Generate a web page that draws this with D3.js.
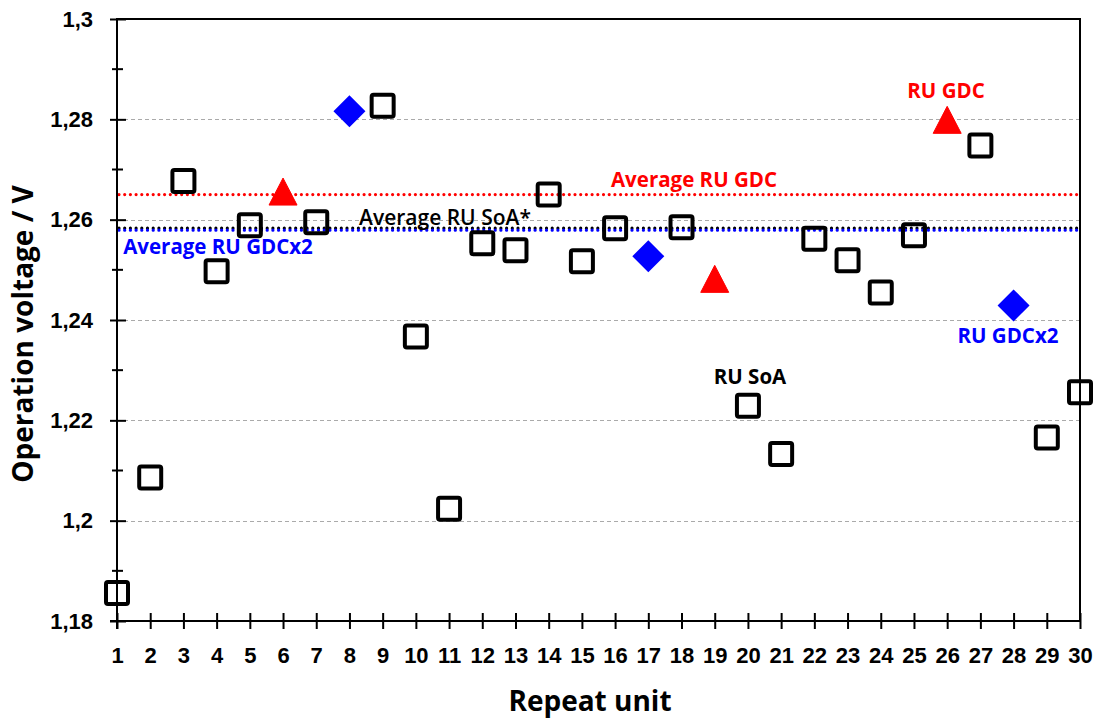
<!DOCTYPE html>
<html>
<head>
<meta charset="utf-8">
<script src="https://cdn.jsdelivr.net/npm/d3@7"></script>
<style>
  body { margin: 0; background: #fff; }
  svg { display: block; font-family: "Open Sans", "Noto Sans", sans-serif; }
</style>
</head>
<body>
<svg id="chart" width="1096" height="719"></svg>
<script>
// repeat units on the x axis
const repeatUnits = d3.range(1, 31);

// RU SoA (open squares)
const soaUnits = [1, 2, 3, 4, 5, 7, 9, 10, 11, 12, 13, 14, 15, 16, 18, 20, 21, 22, 23, 24, 25, 27, 29, 30];
const soaVoltage = [1.1856, 1.2086, 1.2677, 1.2497, 1.2589, 1.2595, 1.2827, 1.2367, 1.2024, 1.2553, 1.2539, 1.2650,
  1.2517, 1.2583, 1.2585, 1.2229, 1.2133, 1.2562, 1.2519, 1.2455, 1.2569, 1.2748, 1.2166, 1.2256];

// RU GDC (red triangles)
const gdcUnits = [6, 19, 26];
const gdcVoltage = [1.2656, 1.2482, 1.2799];

// RU GDCx2 (blue diamonds)
const gdc2Units = [8, 17, 28];
const gdc2Voltage = [1.2816, 1.2527, 1.2429];

// averages
const avgGdc = 1.265;
const avgSoa = 1.2583;
const avgGdc2 = 1.2579;

// y axis ticks
const yMajorTicks = [1.18, 1.2, 1.22, 1.24, 1.26, 1.28, 1.3];
const yMinorTicks = [1.19, 1.21, 1.23, 1.25, 1.27, 1.29];
const gridTicks = [1.2, 1.22, 1.24, 1.26, 1.28];

const svg = d3.select('#chart');

const x = d3.scaleLinear().domain([1, 30]).range([117, 1080]);
const y = d3.scaleLinear().domain([1.18, 1.3]).range([621, 19]);

const comma = d3.formatLocale({ decimal: ',', thousands: '.', grouping: [3], currency: ['', ''] }).format('.3~r');

// gridlines
svg.append('g')
  .selectAll('line')
  .data(gridTicks)
  .enter()
  .append('line')
  .attr('x1', x(1))
  .attr('x2', x(30))
  .attr('y1', (d) => Math.round(y(d)) + 0.5)
  .attr('y2', (d) => Math.round(y(d)) + 0.5)
  .attr('stroke', '#aaaaaa')
  .attr('stroke-width', 1)
  .attr('stroke-dasharray', '4,3');

// average lines (round dots)
const avgLines = [
  { v: avgGdc, color: '#ff0000' },
  { v: avgSoa, color: '#000000' },
  { v: avgGdc2, color: '#0000ff' },
];
svg.append('g')
  .selectAll('line')
  .data(avgLines)
  .enter()
  .append('line')
  .attr('x1', x(1) + 2)
  .attr('x2', x(30) + 2)
  .attr('y1', (d) => y(d.v))
  .attr('y2', (d) => y(d.v))
  .attr('stroke', (d) => d.color)
  .attr('stroke-width', 3.2)
  .attr('stroke-linecap', 'round')
  .attr('stroke-dasharray', '0,5.7');

// y axis
const yAxis = svg.append('g')
  .attr('transform', `translate(${x(1)},0)`)
  .call(d3.axisLeft(y).tickValues(yMajorTicks).tickSize(8).tickPadding(16).tickFormat(comma));
yAxis.select('.domain').remove();
yAxis.selectAll('line').attr('x1', 9).attr('x2', -7).attr('stroke', '#000').attr('stroke-width', 2);
yAxis.selectAll('text')
  .attr('font-size', 22)
  .attr('font-weight', 'bold')
  .attr('fill', '#000');

svg.append('g')
  .selectAll('line')
  .data(yMinorTicks)
  .enter()
  .append('line')
  .attr('x1', x(1) - 5)
  .attr('x2', x(1) + 6)
  .attr('y1', (d) => y(d))
  .attr('y2', (d) => y(d))
  .attr('stroke', '#000')
  .attr('stroke-width', 2);

// x axis
const xAxis = svg.append('g')
  .attr('transform', `translate(0,${y(1.18)})`)
  .call(d3.axisBottom(x).tickValues(repeatUnits).tickSize(8).tickPadding(18).tickFormat(d3.format('d')));
xAxis.select('.domain').remove();
xAxis.selectAll('line').attr('y1', -8).attr('y2', 8).attr('stroke', '#000').attr('stroke-width', 2);
xAxis.selectAll('text')
  .attr('font-size', 22)
  .attr('font-weight', 'bold')
  .attr('fill', '#000');

// frame
svg.append('path')
  .attr('d', `M${x(1) - 7},${y(1.18)}H${x(30)}V${y(1.3)}H${x(1)}V${y(1.18) + 8}`)
  .attr('fill', 'none')
  .attr('stroke', '#000')
  .attr('stroke-width', 2);

// RU SoA squares
svg.append('g')
  .selectAll('rect')
  .data(soaUnits)
  .enter()
  .append('rect')
  .attr('x', (d) => x(d) - 11)
  .attr('y', (d, i) => y(soaVoltage[i]) - 11)
  .attr('width', 22)
  .attr('height', 22)
  .attr('rx', 2)
  .attr('fill', 'none')
  .attr('stroke', '#000')
  .attr('stroke-width', 4);

// RU GDC triangles
svg.append('g')
  .selectAll('path')
  .data(gdcUnits)
  .enter()
  .append('path')
  .attr('d', 'M0,-13.5L14,13.5L-14,13.5Z')
  .attr('transform', (d, i) => `translate(${x(d)},${y(gdcVoltage[i])})`)
  .attr('fill', '#ff0000')
  .attr('stroke', '#ff0000')
  .attr('stroke-width', 1)
  .attr('stroke-linejoin', 'round');

// RU GDCx2 diamonds
svg.append('g')
  .selectAll('path')
  .data(gdc2Units)
  .enter()
  .append('path')
  .attr('d', 'M0,-16L16,0L0,16L-16,0Z')
  .attr('transform', (d, i) => `translate(${x(d)},${y(gdc2Voltage[i])})`)
  .attr('fill', '#0000ff');

// annotations
const notes = [
  { t: 'RU GDC', cx: 946, cy: 91, color: '#ff0000', w: 'bold' },
  { t: 'Average RU GDC', cx: 694, cy: 180, color: '#ff0000', w: 'bold' },
  { t: 'Average RU SoA*', cx: 445, cy: 217, color: '#000000', w: '600' },
  { t: 'Average RU GDCx2', cx: 218, cy: 247, color: '#0000ff', w: 'bold' },
  { t: 'RU GDCx2', cx: 1008, cy: 336, color: '#0000ff', w: 'bold' },
  { t: 'RU SoA', cx: 750, cy: 377, color: '#000000', w: 'bold' },
];
svg.append('g')
  .selectAll('text')
  .data(notes)
  .enter()
  .append('text')
  .attr('x', (d) => d.cx)
  .attr('y', (d) => d.cy)
  .attr('dy', '0.36em')
  .attr('text-anchor', 'middle')
  .attr('font-size', (d) => (d.w === 'bold' ? 20.5 : 21))
  .attr('font-weight', (d) => d.w)
  .attr('fill', (d) => d.color)
  .text((d) => d.t);

// axis titles
svg.append('text')
  .attr('x', 590)
  .attr('y', 711)
  .attr('text-anchor', 'middle')
  .attr('font-size', 28)
  .attr('font-weight', 'bold')
  .text('Repeat unit');

svg.append('text')
  .attr('transform', 'translate(33,334) rotate(-90)')
  .attr('text-anchor', 'middle')
  .attr('font-size', 28)
  .attr('font-weight', 'bold')
  .text('Operation voltage / V');
</script>
</body>
</html>
